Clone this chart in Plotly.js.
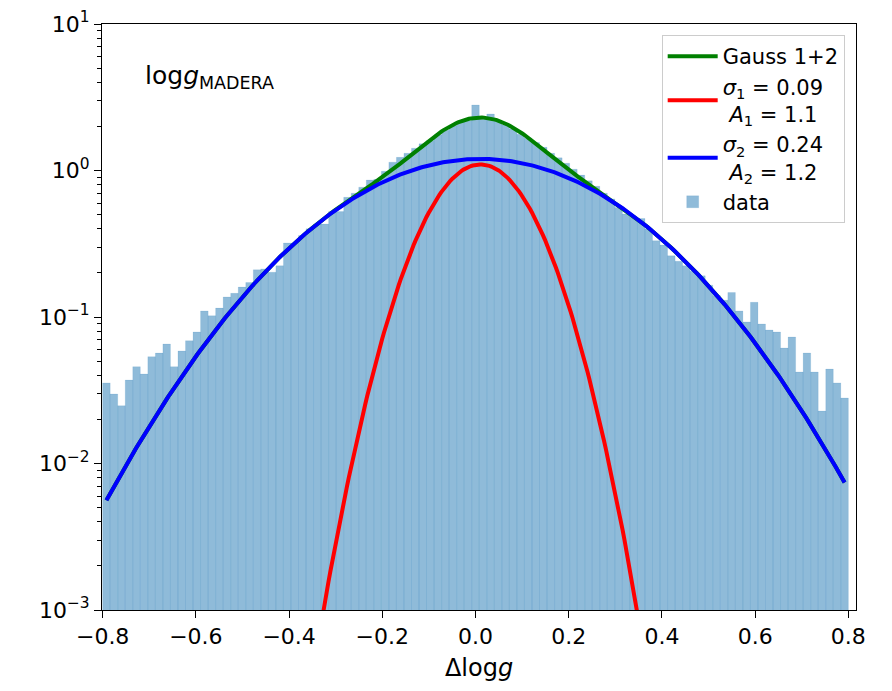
<!DOCTYPE html>
<html><head><meta charset="utf-8">
<script src="https://cdn.plot.ly/plotly-3.0.1.min.js"></script>
<style>html,body{margin:0;padding:0;background:#fff}</style>
</head><body>
<div id="chart" style="width:892px;height:691px"></div>
<script>
// histogram: 99 bins from -0.8 to 0.8
const binLo = -0.8, binHi = 0.8, nBins = 99;
const counts = [
 0.0355,0.0298,0.0248,0.0371,0.0458,0.0408,0.0536,0.0567,0.0654,0.0458,
 0.0586,0.0689,0.079,0.110,0.102,0.115,0.137,0.145,0.160,0.172,
 0.210,0.213,0.202,0.224,0.320,0.320,0.360,0.400,0.431,0.431,
 0.524,0.524,0.656,0.700,0.770,0.861,0.870,0.990,1.14,1.23,
 1.31,1.42,1.52,1.60,1.75,1.88,2.02,2.14,2.19,2.80,
 2.28,2.43,2.20,2.05,1.92,1.77,1.66,1.55,1.44,1.31,
 1.22,1.12,1.02,0.93,0.85,0.78,0.70,0.64,0.56,0.505,
 0.48,0.47,0.40,0.332,0.31,0.262,0.24,0.224,0.205,0.191,
 0.165,0.140,0.130,0.147,0.110,0.0925,0.126,0.0896,0.0815,0.079,
 0.0614,0.073,0.0421,0.0568,0.0421,0.0228,0.0441,0.0355,0.028
];
// fitted Gaussian model parameters
const gaussMu = 0.0105;
const gaussSigma = [0.09, 0.245];
const gaussAmp = [1.1, 1.2];
const legendNames = [
  'Gauss 1+2',
  '<i>σ</i><sub>1</sub> = 0.09<br> <i>A</i><sub>1</sub> = 1.1',
  '<i>σ</i><sub>2</sub> = 0.24<br> <i>A</i><sub>2</sub> = 1.2',
  'data'
];
const xTickVals = [-0.8,-0.6,-0.4,-0.2,0,0.2,0.4,0.6,0.8];
const xTickText = ['−0.8','−0.6','−0.4','−0.2','0.0','0.2','0.4','0.6','0.8'];
const yTickVals = [1e-3,1e-2,1e-1,1,10];
const yTickText = ['10<sup>−3</sup>','10<sup>−2</sup>','10<sup>−1</sup>','10<sup>0</sup>','10<sup>1</sup>'];

const binW = (binHi - binLo) / nBins;
const centers = counts.map((_, i) => binLo + (i + 0.5) * binW);
const nPts = 400;
const xs = [];
for (let i = 0; i < nPts; i++) xs.push(centers[0] + (centers[nBins-1] - centers[0]) * i / (nPts - 1));
const g = (x, k) => gaussAmp[k] * Math.exp(-Math.pow(x - gaussMu, 2) / (2 * gaussSigma[k] * gaussSigma[k]));
const y1 = xs.map(x => g(x, 0));
const y2 = xs.map(x => g(x, 1));
const ySum = xs.map((x, i) => y1[i] + y2[i]);

const minorVals = [];
for (let e = -3; e < 1; e++) for (let m = 2; m <= 9; m++) minorVals.push(m * Math.pow(10, e));

const traces = [
  {type:'bar', x:centers, y:counts, width:binW, name:legendNames[3], legendrank:4,
   marker:{color:'rgba(31,119,180,0.5)', line:{color:'rgba(31,119,180,0.22)', width:0.5}}},
  {type:'scatter', mode:'lines', x:xs, y:ySum, name:legendNames[0], legendrank:1,
   line:{color:'#008000', width:4}},
  {type:'scatter', mode:'lines', x:xs, y:y1, name:legendNames[1], legendrank:2,
   line:{color:'#ff0000', width:4}},
  {type:'scatter', mode:'lines', x:xs, y:y2, name:legendNames[2], legendrank:3,
   line:{color:'#0000ff', width:4}}
];

const layout = {
  width:892, height:691,
  margin:{l:102, r:36, t:24, b:81},
  paper_bgcolor:'#ffffff', plot_bgcolor:'#ffffff',
  font:{family:'DejaVu Sans', size:22, color:'#000'},
  bargap:0,
  showlegend:true,
  legend:{x:0.985, y:0.981, xanchor:'right', yanchor:'top',
          bgcolor:'rgba(255,255,255,0.85)', bordercolor:'#cccccc', borderwidth:1,
          font:{size:21}, tracegroupgap:6, itemwidth:50},
  xaxis:{range:[-0.8014, 0.8164], tickmode:'array', tickvals:xTickVals, ticktext:xTickText,
         ticks:'outside', ticklen:7, tickwidth:1, tickcolor:'#000',
         showline:true, mirror:true, linecolor:'#000', linewidth:1,
         showgrid:false, zeroline:false,
         title:{text:'Δlog<i>g</i>', font:{size:24}, standoff:10}},
  yaxis:{type:'log', range:[-3, 1], tickmode:'array', tickvals:yTickVals, ticktext:yTickText,
         ticks:'outside', ticklen:7, tickwidth:1, tickcolor:'#000',
         minor:{tickmode:'array', tickvals:minorVals, ticks:'outside', ticklen:4, tickwidth:1, tickcolor:'#000', showgrid:false},
         showline:true, mirror:true, linecolor:'#000', linewidth:1,
         showgrid:false, zeroline:false},
  annotations:[{xref:'paper', yref:'paper', x:0.054, y:0.91, xanchor:'left', yanchor:'middle',
                text:'log<i>g</i><sub>MADERA</sub>', showarrow:false, font:{size:25}}]
};
Plotly.newPlot('chart', traces, layout, {displayModeBar:false, staticPlot:true});
</script>
</body></html>
